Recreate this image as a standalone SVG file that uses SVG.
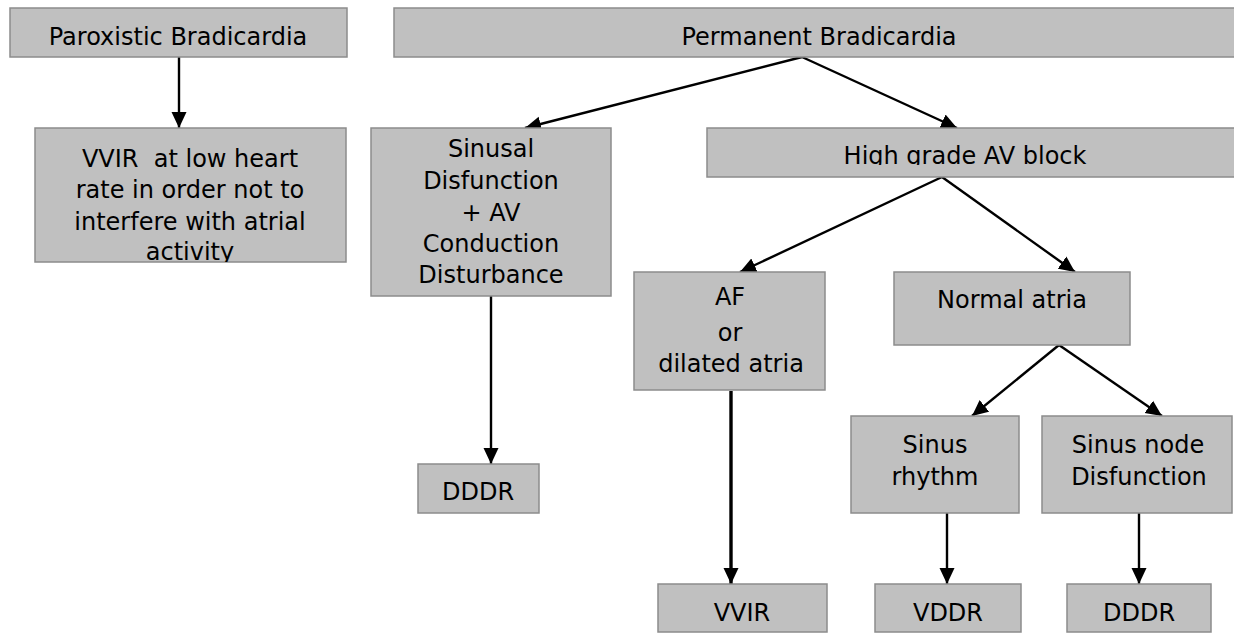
<svg xmlns="http://www.w3.org/2000/svg" width="1234" height="633" viewBox="0 0 1234 633">
<style>
.box{fill:#c0c0c0;stroke:#8c8c8c;stroke-width:1.5}
.t{font-family:"DejaVu Sans","Liberation Sans",sans-serif;font-size:24px;fill:#000;text-anchor:middle}
.c{stroke:#000;stroke-width:2.4;fill:none;marker-end:url(#ah)}
.thick{stroke-width:3.4}
</style>
<defs>
<marker id="ah" markerUnits="userSpaceOnUse" markerWidth="16" markerHeight="16" refX="16" refY="8" orient="auto" viewBox="0 0 16 16">
<path d="M0,0.5 L16,8 L0,15.5 z" fill="#000"/>
</marker>
<clipPath id="clipHigh"><rect x="707" y="128" width="540" height="37"/></clipPath>
<clipPath id="clipVVIR"><rect x="35" y="128" width="311" height="134"/></clipPath>
</defs>
<rect width="1234" height="633" fill="#fff"/>

<g id="connectors">
<line class="c" x1="179" y1="57" x2="179" y2="128"/>
<line class="c" x1="802" y1="57" x2="525" y2="128"/>
<line class="c" x1="802" y1="57" x2="957" y2="128"/>
<line class="c" x1="491" y1="296" x2="491" y2="464"/>
<line class="c" x1="942" y1="177" x2="740" y2="272"/>
<line class="c" x1="942" y1="177" x2="1075" y2="272"/>
<line class="c thick" x1="731" y1="391" x2="731" y2="584"/>
<line class="c" x1="1059" y1="345" x2="972" y2="416"/>
<line class="c" x1="1059" y1="345" x2="1162" y2="416"/>
<line class="c" x1="947" y1="513" x2="947" y2="584"/>
<line class="c" x1="1139" y1="513" x2="1139" y2="584"/>
</g>

<g id="paroxistic">
<rect class="box" x="10" y="8" width="337" height="49"/>
<text class="t" x="178" y="45">Paroxistic Bradicardia</text>
</g>

<g id="permanent">
<rect class="box" x="394" y="8" width="850" height="49"/>
<text class="t" x="819" y="45">Permanent Bradicardia</text>
</g>

<g id="vvir-low">
<rect class="box" x="35" y="128" width="311" height="134"/>
<g clip-path="url(#clipVVIR)">
<text class="t" x="190" y="167" xml:space="preserve">VVIR  at low heart</text>
<text class="t" x="190" y="198">rate in order not to</text>
<text class="t" x="190" y="230">interfere with atrial</text>
<text class="t" x="190" y="260">activity</text>
</g>
</g>

<g id="sinusal">
<rect class="box" x="371" y="128" width="240" height="168"/>
<text class="t" x="491" y="157">Sinusal</text>
<text class="t" x="491" y="189">Disfunction</text>
<text class="t" x="491" y="221">+ AV</text>
<text class="t" x="491" y="252">Conduction</text>
<text class="t" x="491" y="283">Disturbance</text>
</g>

<g id="high-grade">
<rect class="box" x="707" y="128" width="540" height="49"/>
<g clip-path="url(#clipHigh)">
<text class="t" x="965" y="164">High grade AV block</text>
</g>
</g>

<g id="af">
<rect class="box" x="634" y="272" width="191" height="118"/>
<text class="t" x="730" y="305">AF</text>
<text class="t" x="730" y="341">or</text>
<text class="t" x="731" y="372">dilated atria</text>
</g>

<g id="normal-atria">
<rect class="box" x="894" y="272" width="236" height="73"/>
<text class="t" x="1012" y="308">Normal atria</text>
</g>

<g id="dddr-left">
<rect class="box" x="418" y="464" width="121" height="49"/>
<text class="t" x="478" y="500">DDDR</text>
</g>

<g id="sinus-rhythm">
<rect class="box" x="851" y="416" width="168" height="97"/>
<text class="t" x="935" y="453">Sinus</text>
<text class="t" x="935" y="485">rhythm</text>
</g>

<g id="sinus-node">
<rect class="box" x="1042" y="416" width="190" height="97"/>
<text class="t" x="1138" y="453">Sinus node</text>
<text class="t" x="1139" y="485">Disfunction</text>
</g>

<g id="vvir">
<rect class="box" x="658" y="584" width="169" height="48"/>
<text class="t" x="742" y="621">VVIR</text>
</g>

<g id="vddr">
<rect class="box" x="875" y="584" width="146" height="48"/>
<text class="t" x="948" y="621">VDDR</text>
</g>

<g id="dddr-right">
<rect class="box" x="1067" y="584" width="144" height="48"/>
<text class="t" x="1139" y="621">DDDR</text>
</g>
</svg>
